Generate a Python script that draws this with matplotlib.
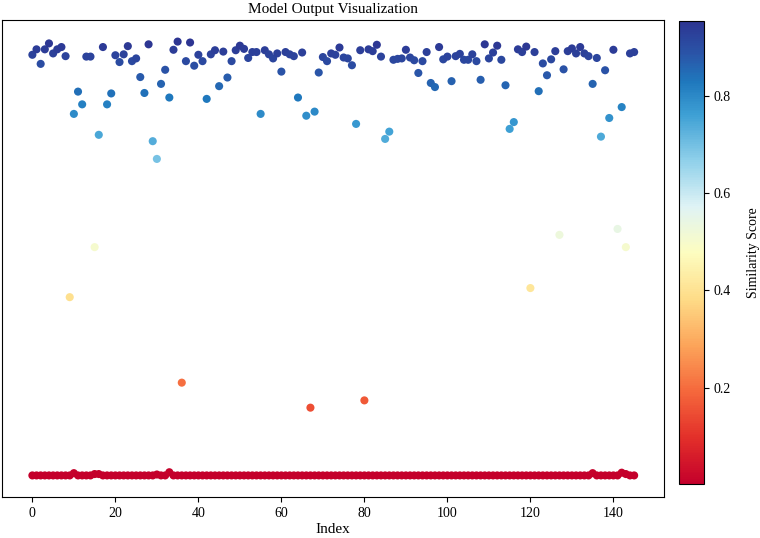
import numpy as np
import matplotlib
matplotlib.use('Agg')
import matplotlib.pyplot as plt
from matplotlib.colors import LinearSegmentedColormap

plt.rcParams['font.family'] = ['Liberation Serif', 'DejaVu Serif']

# high similarity scores, one per index 0..145
high_scores = [
    0.926, 0.938, 0.906, 0.938, 0.951, 0.929, 0.938, 0.943, 0.923, 0.393,
    0.796, 0.845, 0.817, 0.922, 0.922, 0.503, 0.750, 0.943, 0.817, 0.841,
    0.925, 0.910, 0.927, 0.945, 0.912, 0.918, 0.877, 0.842, 0.949, 0.736,
    0.697, 0.862, 0.893, 0.832, 0.937, 0.955, 0.205, 0.912, 0.953, 0.902,
    0.926, 0.912, 0.829, 0.927, 0.936, 0.857, 0.933, 0.876, 0.912, 0.936,
    0.946, 0.939, 0.919, 0.932, 0.932, 0.796, 0.936, 0.927, 0.918, 0.929,
    0.889, 0.932, 0.927, 0.923, 0.832, 0.931, 0.792, 0.150, 0.801, 0.887,
    0.921, 0.912, 0.929, 0.926, 0.942, 0.920, 0.918, 0.903, 0.774, 0.936,
    0.166, 0.938, 0.934, 0.948, 0.922, 0.741, 0.757, 0.915, 0.917, 0.918,
    0.937, 0.920, 0.914, 0.886, 0.912, 0.932, 0.864, 0.855, 0.943, 0.916,
    0.922, 0.868, 0.923, 0.928, 0.915, 0.915, 0.927, 0.912, 0.871, 0.949,
    0.918, 0.931, 0.946, 0.915, 0.859, 0.763, 0.778, 0.938, 0.932, 0.944,
    0.413, 0.932, 0.846, 0.907, 0.881, 0.916, 0.934, 0.530, 0.894, 0.934,
    0.940, 0.929, 0.943, 0.929, 0.923, 0.862, 0.919, 0.746, 0.892, 0.787,
    0.937, 0.543, 0.811, 0.503, 0.929, 0.932,
]

# low similarity scores, one per index 0..145 (flat near zero with small bumps)
low_scores = [0.001] * 146
bumps = {10: 0.006, 15: 0.004, 16: 0.004, 30: 0.003, 33: 0.008,
         135: 0.006, 142: 0.007, 143: 0.004}
for k, v in bumps.items():
    low_scores[k] = v

index = np.arange(len(high_scores))
x_all = np.concatenate([index, index])
y_all = np.concatenate([high_scores, low_scores])

# slightly more saturated RdYlBu look, as in the original
cmap = LinearSegmentedColormap.from_list('rdylbu_sat', [
    (0.00, '#c4002b'), (0.10, '#e3302a'), (0.20, '#f5683c'),
    (0.30, '#fca55a'), (0.40, '#fedc88'), (0.50, '#fdfdc0'),
    (0.60, '#dff3f5'), (0.70, '#8fd0ea'), (0.80, '#3d9fd4'),
    (0.87, '#1f78bd'), (0.93, '#2a55a8'), (1.00, '#2d3592'),
])

fig = plt.figure(figsize=(7.6, 5.38), dpi=100)
ax = fig.add_axes([0.003, 0.076, 0.871, 0.887])
cax = fig.add_axes([0.893, 0.100, 0.033, 0.861])

sc = ax.scatter(x_all, y_all, c=y_all, cmap=cmap, s=34, linewidths=0)
ax.set_yticks([])
ax.set_xticks([0, 20, 40, 60, 80, 100, 120, 140])
ax.tick_params(axis='x', labelsize=10)
ax.set_xlabel('Index', fontsize=11, labelpad=2)
ax.set_title('Model Output Visualization', fontsize=11, pad=5)

cb = fig.colorbar(sc, cax=cax)
cb.set_ticks([0.2, 0.4, 0.6, 0.8])
cb.ax.tick_params(labelsize=10)
cb.set_label('Similarity Score', fontsize=10, labelpad=12)

fig.savefig('out.png', dpi=100)
